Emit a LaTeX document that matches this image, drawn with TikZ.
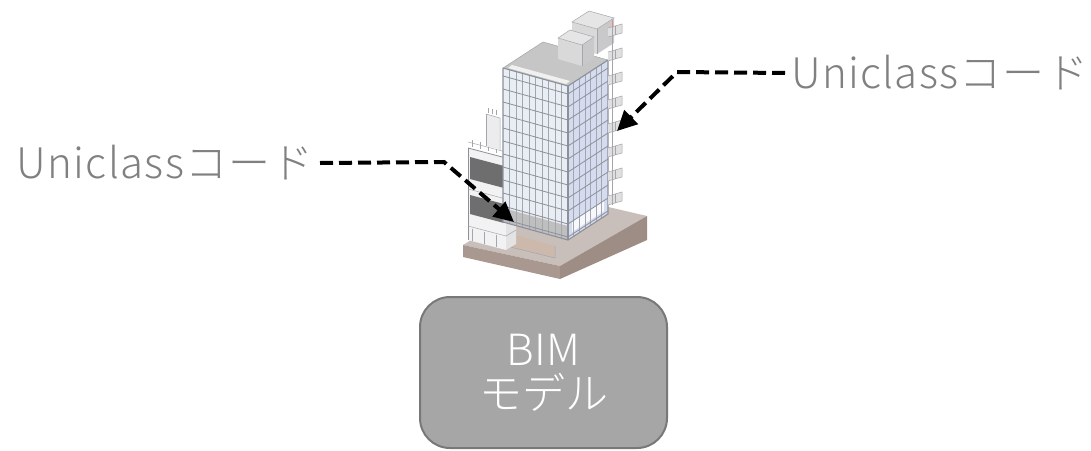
\documentclass[tikz,border=0pt]{standalone}
\usepackage{fontspec}
\IfFontExistsTF{Noto Sans CJK JP Light}
  {\newfontfamily\jp{Noto Sans CJK JP Light}
   \newfontfamily\jpwide[LetterSpace=3]{Noto Sans CJK JP Light}}
  {\newfontfamily\jp{Noto Sans CJK JP}
   \newfontfamily\jpwide[LetterSpace=3]{Noto Sans CJK JP}}
\usetikzlibrary{arrows.meta}
\definecolor{labelgray}{HTML}{808080}
\definecolor{boxfill}{HTML}{A6A6A6}
\definecolor{boxline}{HTML}{787878}
\definecolor{glassL}{HTML}{E9EDF4}
\definecolor{glassR}{HTML}{D6DCEF}
\definecolor{mullion}{HTML}{8C9099}
\definecolor{roofgray}{HTML}{C6C6C6}
\definecolor{basetop}{HTML}{C9BFBA}
\definecolor{baseL}{HTML}{A9988F}
\definecolor{baseR}{HTML}{9E8D85}
\definecolor{ramp}{HTML}{CDB9AC}
\definecolor{darkpanel}{HTML}{6E6E6E}
\tikzset{
  codelabel/.style={font=\jpwide\fontsize{42}{48}\selectfont, text=labelgray, inner ysep=4pt, inner xsep=6pt},
  pointer/.style={draw=black, line width=4pt, dash pattern=on 13pt off 6pt,
    -{Triangle[length=20pt,width=19pt]}},
  modelbox/.style={draw=boxline, line width=2pt, fill=boxfill, rounded corners=30pt,
    minimum width=247pt, minimum height=151pt, text=white, align=center,
    font=\jp\fontsize{43}{44}\selectfont},
  frame/.style={draw=mullion, line width=0.8pt},
  thin/.style={draw=mullion!80, line width=0.5pt},
}
\begin{document}
\begin{tikzpicture}[x=1pt,y=-1pt]
\useasboundingbox (0,0) rectangle (1091,450);

% ---- ground slab ----
\fill[basetop] (463,245) -- (560,266) -- (647,216) -- (548,193) -- cycle;
\fill[baseL] (463,245) -- (560,266) -- (560,279) -- (463,257) -- cycle;
\fill[baseR] (560,266) -- (647,216) -- (647,240) -- (560,279) -- cycle;
\fill[ramp] (482,240) -- (555,258) -- (555,246) -- (505,232) -- cycle;
\draw[thin] (482,240) -- (555,258) -- (555,246);

% ---- low annex on the left ----
\fill[gray!10] (468,148) -- (506,158) -- (506,250) -- (468,240) -- cycle;
\fill[gray!22] (506,158) -- (516,152) -- (516,244) -- (506,250) -- cycle;
\fill[darkpanel] (470,157) -- (504,166) -- (504,188) -- (470,179) -- cycle;
\fill[darkpanel] (470,195) -- (504,204) -- (504,223) -- (470,214) -- cycle;
\fill[glassL!70!gray] (504,166) -- (506,166) -- (506,188) -- (504,188) -- cycle;
\draw[frame] (468,148) -- (506,158) -- (516,152);
\draw[frame] (468,148) -- (468,240);
\draw[thin] (468,189) -- (506,199) -- (516,193);
\draw[thin] (468,226) -- (506,236) -- (516,230);
\foreach \x in {472,480,488,496,504} \draw[thin] (\x,{146+(\x-468)*0.26}) -- (\x,{139+(\x-468)*0.26});
\draw[thin] (468,142) -- (506,152);
% small upper block
\fill[gray!15] (486,114) -- (500,118) -- (500,150) -- (486,146) -- cycle;
\draw[thin] (486,114) -- (500,118) -- (500,150);
\draw[thin] (486,114) -- (486,146);
\foreach \x in {488,492,496} \draw[thin] (\x,{112+(\x-486)*0.28}) -- (\x,{107+(\x-486)*0.28});
% ground floor posts
\foreach \x in {472,484,496} \draw[thin] (\x,{240+(\x-468)*0.26}) -- (\x,{228+(\x-468)*0.26});

% ---- main tower ----
% left face
\fill[glassL] (503,68) -- (568,86) -- (568,240) -- (503,222) -- cycle;
\fill[gray!50] (503,208) -- (568,226) -- (568,240) -- (503,222) -- cycle;
% right face
\fill[glassR] (568,86) -- (608,60) -- (608,214) -- (568,240) -- cycle;
\fill[white!80!glassR] (572,222) -- (604,201) -- (604,211) -- (572,232) -- cycle;
% roof
\fill[roofgray] (503,68) -- (568,86) -- (608,60) -- (543,42) -- cycle;
\fill[gray!12] (508,68) -- (566,84) -- (570,81) -- (512,65) -- cycle;
% mullions on left face
\foreach \u in {0.1,0.2,...,0.95} \draw[thin] ({503+\u*65},{68+\u*18}) -- ({503+\u*65},{68+\u*18+154});
% floors on left face
\foreach \v in {8,21,...,154} \draw[frame] (503,{68+\v}) -- (568,{86+\v});
% mullions on right face
\foreach \u in {0.14,0.28,...,0.95} \draw[thin] ({568+\u*40},{86-\u*26}) -- ({568+\u*40},{86-\u*26+154});
% floors on right face
\foreach \v in {8,21,...,154} \draw[frame] (568,{86+\v}) -- (608,{60+\v});
% tower outline
\draw[frame, line width=1.1pt] (503,68) -- (503,222) -- (568,240) -- (608,214) -- (608,60);
\draw[frame, line width=1.1pt] (568,86) -- (568,240);
\draw[frame, line width=1.1pt] (503,68) -- (568,86) -- (608,60);
\draw[thin] (503,68) -- (543,42) -- (608,60);

% ---- rooftop plant rooms ----
% rear, taller box
\fill[gray!30] (572,22) -- (597,29) -- (597,54) -- (572,47) -- cycle;
\fill[gray!42] (597,29) -- (614,18) -- (614,43) -- (597,54) -- cycle;
\fill[gray!20] (572,22) -- (597,29) -- (614,18) -- (589,11) -- cycle;
% front, lower box
\fill[gray!30] (558,38) -- (582,45) -- (582,66) -- (558,59) -- cycle;
\fill[gray!42] (582,45) -- (594,37) -- (594,58) -- (582,66) -- cycle;
\fill[gray!20] (558,38) -- (582,45) -- (594,37) -- (570,30) -- cycle;
\draw[thin] (558,38) -- (582,45) -- (594,37) -- (570,30) -- cycle;
\draw[thin] (582,45) -- (582,66);
\draw[thin] (572,22) -- (597,29) -- (614,18) -- (589,11) -- cycle;
\draw[thin] (597,29) -- (597,54);
\fill[red!30] (611,22) rectangle (614,34);

% ---- external stair balconies ----
\foreach \k in {0,...,7} {
  \fill[gray!25] (608,{28+\k*24}) -- (622,{24+\k*24}) -- (622,{33+\k*24}) -- (608,{37+\k*24}) -- cycle;
  \draw[thin] (608,{28+\k*24}) -- (622,{24+\k*24}) -- (622,{33+\k*24}) -- (608,{37+\k*24});
  \draw[thin] (615,{26+\k*24}) -- (615,{35+\k*24});
}
\draw[thin] (612,20) -- (612,205);

% ---- labels and pointers ----
\node[codelabel, anchor=east] (codeL) at (320,163) {Uniclassコード};
\node[codelabel, anchor=west] (codeR) at (785,73) {Uniclassコード};
\coordinate (bendL) at (444,162);
\coordinate (tipL) at (514,222);
\coordinate (bendR) at (677,72);
\coordinate (tipR) at (617,131);
\draw[pointer] (codeL.east) -- (bendL) -- (tipL);
\draw[pointer] (codeR.west) -- (bendR) -- (tipR);

% ---- model box ----
\node[modelbox] (bim) at (543.5,372.5) {BIM\\モデル};
\end{tikzpicture}
\end{document}
